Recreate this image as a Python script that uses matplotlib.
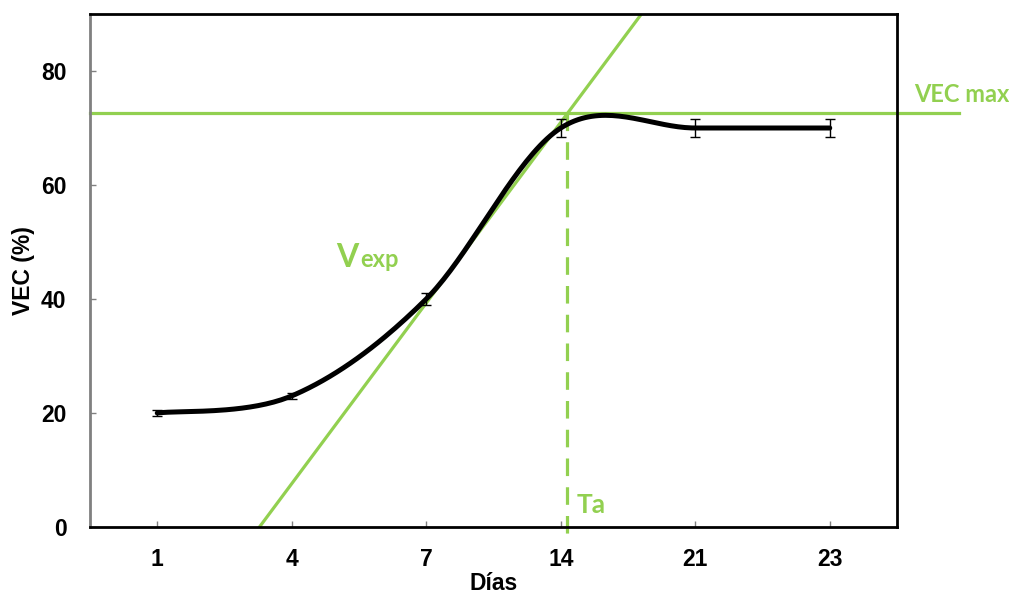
import numpy as np
import matplotlib.pyplot as plt

days = ["1", "4", "7", "14", "21", "23"]
vec = [20.0, 23.0, 40.0, 70.0, 70.0, 70.0]
vec_err = [0.5, 0.5, 1.0, 1.5, 1.5, 1.5]

vec_max = 72.6          # plateau line (VEC max)
ta_pos = 4.05           # category position of Ta
vexp_x = [1.76, 4.60]   # tangent line (Vexp) ends
vexp_y = [0.0, 90.0]

green = "#92D050"
gfont = ["Lato", "DejaVu Sans"]
afont = ["Liberation Sans", "DejaVu Sans"]

pos = np.arange(1, len(days) + 1)


def smooth(x, y, n=40):
    # Excel-like smoothed line (Catmull-Rom through the points)
    p = np.column_stack([x, y]).astype(float)
    p = np.vstack([p[0], p, p[-1]])
    out = []
    for i in range(1, len(p) - 2):
        p0, p1, p2, p3 = p[i - 1], p[i], p[i + 1], p[i + 2]
        t = np.linspace(0, 1, n)[:, None]
        seg = 0.5 * ((2 * p1) + (-p0 + p2) * t
                     + (2 * p0 - 5 * p1 + 4 * p2 - p3) * t ** 2
                     + (-p0 + 3 * p1 - 3 * p2 + p3) * t ** 3)
        out.append(seg)
    out = np.vstack(out)
    return out[:, 0], out[:, 1]


fig = plt.figure(figsize=(10.09, 5.95), dpi=100)
ax = fig.add_axes([90 / 1009, 68 / 595, 807 / 1009, 513 / 595])

sx, sy = smooth(pos, vec)
ax.plot(sx, sy, color="black", lw=3.6, solid_capstyle="round", zorder=3)
ax.errorbar(pos, vec, yerr=vec_err, fmt="none", ecolor="black",
            elinewidth=1.0, capsize=3.5, capthick=1.0, zorder=4)

# annotation lines
ax.plot([0.5, 6.96], [vec_max, vec_max], color=green, lw=2.3, clip_on=False, zorder=2)
ax.plot(vexp_x, vexp_y, color=green, lw=2.3, zorder=2)
ax.plot([ta_pos, ta_pos], [vec_max, -1.4], color=green, lw=2.3,
        linestyle=(0, (5.5, 3.5)), clip_on=False, zorder=2)

ax.text(6.63, 75.9, "VEC max", color=green, fontsize=17, fontweight="bold",
        family=gfont, va="center", ha="left", clip_on=False)
ax.text(4.12, 3.9, "Ta", color=green, fontsize=19, fontweight="bold",
        family=gfont, va="center", ha="left")
ax.text(2.33, 45.6, "V", color=green, fontsize=23, fontweight="bold",
        family=gfont, va="baseline", ha="left")
ax.text(2.51, 45.6, "exp", color=green, fontsize=17, fontweight="bold",
        family=gfont, va="baseline", ha="left")

ax.set_xlim(0.5, 6.5)
ax.set_ylim(0, 90)
ax.set_xticks(pos)
ax.set_xticklabels(days)
ax.set_yticks([0, 20, 40, 60, 80])

for lab in ax.get_xticklabels() + ax.get_yticklabels():
    lab.set_family(afont)
    lab.set_fontweight("bold")
    lab.set_fontsize(16.5)

ax.tick_params(axis="both", direction="in", length=4, width=1, color="#808080")
ax.tick_params(axis="x", pad=15)
ax.tick_params(axis="y", pad=17)

for s in ["top", "right", "bottom"]:
    ax.spines[s].set_color("black")
    ax.spines[s].set_linewidth(2)
ax.spines["left"].set_color("#808080")
ax.spines["left"].set_linewidth(2)

ax.set_xlabel("Días", fontsize=16.5, fontweight="bold", family=afont, labelpad=1)
ax.set_ylabel("VEC (%)", fontsize=16.5, fontweight="bold", family=afont, labelpad=4)

fig.savefig("out.png", dpi=100)
